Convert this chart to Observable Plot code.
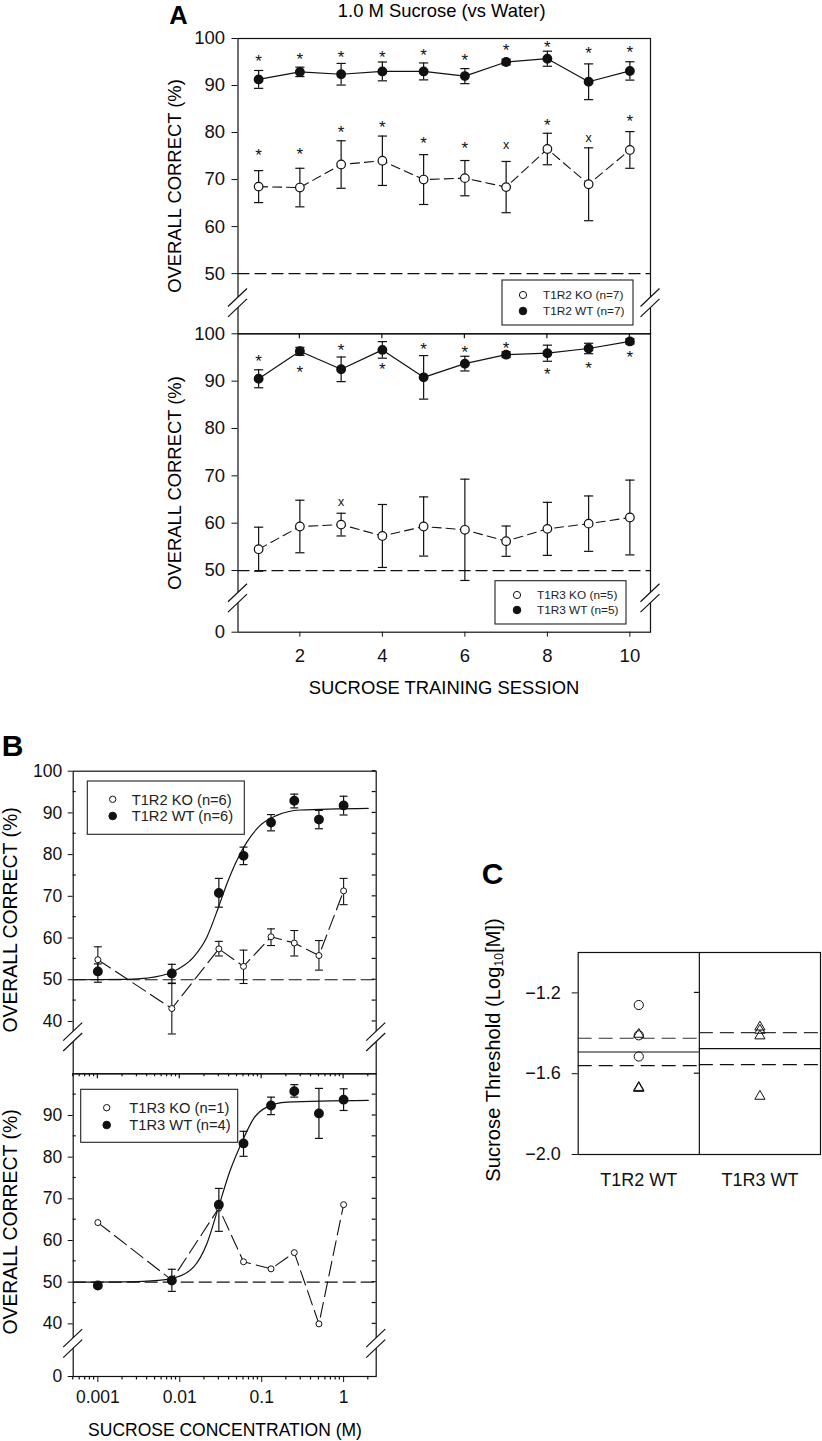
<!DOCTYPE html>
<html>
<head>
<meta charset="utf-8">
<script src="https://cdn.jsdelivr.net/npm/d3@7"></script>
<script src="https://cdn.jsdelivr.net/npm/@observablehq/plot@0.6"></script>
<style>
  html, body { margin: 0; padding: 0; background: #fff; }
  #fig { position: relative; width: 822px; height: 1441px; overflow: hidden; background: #fff;
         font-family: "Liberation Sans", Arial, Helvetica, sans-serif; color: #000; }
  .lbl { position: absolute; white-space: nowrap; line-height: 0.8; transform: translate(-50%, -50%); }
  .rot { transform: translate(-50%, -50%) rotate(-90deg); }
  .bold { font-weight: bold; }
</style>
</head>
<body>
<div id="fig"></div>
<script>
// ======================= DATA =======================
const chance = 50;

// ---- Panel A: 1.0 M sucrose vs water, training sessions ----
const sessions = [1, 2, 3, 4, 5, 6, 7, 8, 9, 10];
const sessionTicks = [2, 4, 6, 8, 10];
const aTicksTop = [50, 60, 70, 80, 90, 100];
const aTicksBottom = [0, 50, 60, 70, 80, 90, 100];

const aT1R2_WT_mean = [91.3, 92.9, 92.4, 93.0, 93.0, 92.0, 95.0, 95.7, 90.8, 93.1];
const aT1R2_WT_sem  = [1.9, 1.0, 2.3, 2.0, 1.8, 1.6, 0.6, 1.6, 3.8, 1.95];
const aT1R2_KO_mean = [68.5, 68.3, 73.2, 74.0, 70.0, 70.3, 68.4, 76.5, 69.0, 76.3];
const aT1R2_KO_sem  = [3.4, 4.1, 5.05, 5.25, 5.3, 3.75, 5.45, 3.35, 7.75, 3.9];
const aT1R2_WT_sig  = ["*", "*", "*", "*", "*", "*", "*", "*", "*", "*"];
const aT1R2_WT_sigY = [95.9, 96.5, 96.9, 96.9, 97.3, 96.2, 98.3, 98.9, 97.6, 97.9];
const aT1R2_KO_sig  = ["*", "*", "*", "*", "*", "*", "x", "*", "x", "*"];
const aT1R2_KO_sigY = [76.0, 76.2, 80.8, 82.0, 78.6, 77.4, 77.1, 82.3, 78.7, 83.3];

const aT1R3_WT_mean = [90.5, 96.3, 92.5, 96.6, 90.8, 93.7, 95.6, 95.9, 96.9, 98.4];
const aT1R3_WT_sem  = [1.9, 0.85, 2.6, 1.75, 4.6, 1.55, 0.6, 1.7, 1.1, 0.55];
const aT1R3_KO_mean = [54.5, 59.3, 59.7, 57.3, 59.3, 58.6, 56.2, 58.8, 59.9, 61.2];
const aT1R3_KO_sem  = [4.65, 5.55, 2.4, 6.65, 6.25, 10.7, 3.2, 5.6, 5.85, 7.9];
const aT1R3_WT_sig  = ["*", "*", "*", "*", "*", "*", "*", "*", "*", "*"];
const aT1R3_WT_sigY = [95.1, 92.7, 97.3, 93.3, 97.5, 97.0, 97.7, 92.2, 93.5, 95.8];
const aT1R3_KO_sig  = ["", "", "x", "", "", "", "", "", "", ""];
const aT1R3_KO_sigY = [null, null, 64.3, null, null, null, null, null, null, null];

const legendA1 = ["T1R2 KO (n=7)", "T1R2 WT (n=7)"];
const legendA2 = ["T1R3 KO (n=5)", "T1R3 WT (n=5)"];

// ---- Panel B: concentration-response ----
const conc = [0.001, 0.008, 0.03, 0.06, 0.13, 0.25, 0.5, 1];
const concTicks = [0.001, 0.01, 0.1, 1];
const bTicksTop = [40, 50, 60, 70, 80, 90, 100];
const bTicksBottom = [0, 40, 50, 60, 70, 80, 90];

const bT1R2_WT_mean = [52.0, 51.5, 70.8, 79.7, 87.7, 92.9, 88.4, 91.8];
const bT1R2_WT_lo   = [49.4, 49.1, 67.4, 77.6, 85.7, 91.2, 86.2, 89.5];
const bT1R2_WT_hi   = [53.8, 53.7, 74.3, 81.8, 89.6, 94.5, 90.6, 94.0];
const bT1R2_KO_mean = [54.8, 43.1, 57.4, 53.2, 60.3, 58.8, 55.8, 71.3];
const bT1R2_KO_lo   = [51.8, 37.0, 55.7, 49.1, 58.2, 55.7, 52.3, 68.0];
const bT1R2_KO_hi   = [57.9, 49.2, 59.2, 57.1, 62.2, 61.8, 59.4, 74.3];
const bT1R2_fitX = [0.0005, 0.00226, 0.004, 0.008, 0.0147, 0.0214, 0.0297, 0.0376, 0.0497, 0.0659, 0.0959, 0.153, 0.295, 2.0];
const bT1R2_fitY = [50.0, 50.1, 50.4, 51.8, 55.4, 60.2, 67.4, 73.0, 78.6, 83.0, 87.0, 89.4, 90.7, 91.1];

const bT1R3_WT_mean = [49.2, 50.4, 68.6, 83.3, 92.4, 95.8, 90.5, 93.8];
const bT1R3_WT_lo   = [48.65, 47.8, 62.2, 80.2, 90.2, 94.4, 84.5, 91.2];
const bT1R3_WT_hi   = [49.75, 53.1, 72.5, 86.2, 94.4, 97.4, 96.5, 96.4];
const bT1R3_KO_mean = [64.3, 50.5, 67.8, 54.9, 53.2, 57.1, 40.0, 68.6];
const bT1R3_fitX = [0.0005, 0.0036, 0.008, 0.0147, 0.0214, 0.0297, 0.0412, 0.0573, 0.0794, 0.1156, 0.203, 2.0];
const bT1R3_fitY = [50.0, 50.2, 50.9, 53.6, 59.2, 68.0, 76.8, 83.6, 89.2, 92.0, 93.2, 93.6];

const legendB1 = ["T1R2 KO (n=6)", "T1R2 WT (n=6)"];
const legendB2 = ["T1R3 KO (n=1)", "T1R3 WT (n=4)"];

// ---- Panel C: sucrose thresholds ----
const cGroups = ["T1R2 WT", "T1R3 WT"];
const cCircles = [[-1.26, -1.41, -1.515], []];
const cTriangles = [[-1.405, -1.668, -1.673], [-1.369, -1.385, -1.413, -1.712]];
const cMean = [-1.4925, -1.476];
const cSem = [0.068, 0.079];
const cTicks = [-2.0, -1.6, -1.2];

// ======================= LAYOUT (page pixels) =======================
const W = 822, H = 1441;
const FONT = '"Liberation Sans", Arial, Helvetica, sans-serif';
const INK = "#111";
const fig = document.getElementById("fig");

const frameA1 = {L: 237.5, R: 650, T: 38, B: 333.3};
const frameA2 = {L: 237.5, R: 650, T: 333.3, B: 631.7, squeeze: 38, breakAt: 45};
const frameB1 = {L: 72.7, R: 375.7, T: 770.7, B: 1073.3};
const frameB2 = {L: 72.7, R: 375.7, T: 1073.3, B: 1376, squeeze: 31.8, breakAt: 35};
const frameC  = {L: 577.7, R: 820, T: 952, B: 1154};

// ======================= HELPERS =======================
const identity = v => v;
// broken axis: values below breakAt are drawn in a compressed strip of `squeeze` pixels
function squeezer(f) {
  const pxPerUnit = (f.B - f.squeeze - f.T) / (100 - f.breakAt);
  const k = (f.squeeze / f.breakAt) / pxPerUnit;
  return v => (v >= f.breakAt ? v : f.breakAt - (f.breakAt - v) * k);
}
function tickSpec(ticks, fwd) {
  const tv = ticks.map(fwd);
  return {ticks: tv, tickFormat: v => { const j = tv.findIndex(t => Math.abs(t - v) < 1e-9); return j < 0 ? "" : String(ticks[j]); }};
}

const cap = {draw(ctx, size) { const w = Math.sqrt(size / Math.PI); ctx.moveTo(-w, 0); ctx.lineTo(w, 0); }};

function rowsSem(xs, mean, sem, fy = identity) { return xs.map((x, i) => ({x, y: fy(mean[i]), lo: fy(mean[i] - sem[i]), hi: fy(mean[i] + sem[i])})); }
function rowsLH(xs, mean, lo, hi, fy = identity) { return xs.map((x, i) => ({x, y: fy(mean[i]), lo: fy(lo[i]), hi: fy(hi[i])})); }
function rowsXY(xs, ys, fy = identity) { return xs.map((x, i) => ({x, y: fy(ys[i])})); }
function rowsSig(xs, sig, ys, fy = identity) { return xs.map((x, i) => ({x, t: sig[i], y: ys[i] == null ? null : fy(ys[i])})).filter(d => d.t); }

function errMarks(rows, {capR, sw}) {
  return [
    Plot.ruleX(rows, {x: "x", y1: "lo", y2: "hi", stroke: INK, strokeWidth: sw}),
    Plot.dot(rows, {x: "x", y: "lo", symbol: cap, r: capR, fill: "none", stroke: INK, strokeWidth: sw}),
    Plot.dot(rows, {x: "x", y: "hi", symbol: cap, r: capR, fill: "none", stroke: INK, strokeWidth: sw})
  ];
}
function sigMarks(rows) {
  return [
    Plot.text(rows.filter(d => d.t === "*"), {x: "x", y: "y", text: "t", fontSize: 17, dy: 4.2, fill: INK}),
    Plot.text(rows.filter(d => d.t === "x"), {x: "x", y: "y", text: "t", fontSize: 12.5, dy: -0.7, fill: INK})
  ];
}

function decor(draw) {
  return (index, scales, values, dims) => {
    const g = d3.create("svg:g").attr("fill", "none").attr("stroke", INK).attr("stroke-width", 1.2);
    draw(g, scales, dims);
    return g.node();
  };
}
function breakMark(g, x, y) {
  const dx = 9.5, dy = 9, gap = 5.2;
  g.append("path")
    .attr("d", `M${x - dx},${y + dy - gap}L${x + dx},${y - dy - gap}L${x + dx},${y - dy + gap}L${x - dx},${y + dy + gap}Z`)
    .attr("fill", "#fff").attr("stroke", "none");
  g.append("path")
    .attr("d", `M${x - dx},${y + dy - gap}L${x + dx},${y - dy - gap}M${x - dx},${y + dy + gap}L${x + dx},${y - dy + gap}`);
}
function hTicks(g, x, ys, len) { ys.forEach(y => g.append("line").attr("x1", x).attr("x2", x + len).attr("y1", y).attr("y2", y)); }
function vTicks(g, xs, y, len) { xs.forEach(x => g.append("line").attr("x1", x).attr("x2", x).attr("y1", y).attr("y2", y + len)); }
function legend(g, s) {
  const [x0, y0, x1, y1] = s.box;
  g.append("rect").attr("x", x0).attr("y", y0).attr("width", x1 - x0).attr("height", y1 - y0)
    .attr("fill", "#fff").attr("stroke", "#222").attr("stroke-width", 1.1);
  s.labels.forEach((lab, i) => {
    g.append("circle").attr("cx", s.symX).attr("cy", s.rows[i]).attr("r", i ? s.rFill : s.rOpen)
      .attr("fill", i ? INK : "#fff").attr("stroke", INK).attr("stroke-width", 1);
    g.append("text").attr("x", s.textX).attr("y", s.rows[i]).attr("dy", "0.36em")
      .attr("text-anchor", "start")
      .attr("font-size", s.font).attr("font-family", FONT).attr("fill", "#222").attr("stroke", "none").text(lab);
  });
}

function addPlot(f, fontSize, x, y, marks) {
  const svg = Plot.plot({
    width: W, height: H,
    marginLeft: f.L, marginRight: W - f.R, marginTop: f.T, marginBottom: H - f.B,
    style: {background: "transparent", fontFamily: FONT, fontSize: fontSize + "px", color: INK,
            overflow: "visible", position: "absolute", left: "0px", top: "0px"},
    x, y, marks
  });
  fig.appendChild(svg);
}
function addLabel(text, x, y, size, extra = "") {
  const d = document.createElement("div");
  d.className = "lbl " + extra;
  d.style.left = x + "px"; d.style.top = y + "px"; d.style.fontSize = size + "px";
  d.innerHTML = text;
  fig.appendChild(d);
}

// ======================= PANEL A =======================
const aX = [0.5, 10.5];
{
  const wt = rowsSem(sessions, aT1R2_WT_mean, aT1R2_WT_sem);
  const ko = rowsSem(sessions, aT1R2_KO_mean, aT1R2_KO_sem);
  addPlot(frameA1, 18.5,
    {domain: aX, axis: null},
    {domain: [37.2, 100], ticks: aTicksTop, tickSize: 6, tickPadding: 7, label: null},
    [
      Plot.frame({stroke: INK, strokeWidth: 1.2}),
      Plot.ruleY([chance], {stroke: INK, strokeWidth: 1.2, strokeDasharray: "12,5"}),
      ...errMarks(ko, {capR: 4.6, sw: 1.2}),
      Plot.line(ko, {x: "x", y: "y", stroke: INK, strokeWidth: 1.1, strokeDasharray: "9,5"}),
      Plot.dot(ko, {x: "x", y: "y", r: 4.3, fill: "#fff", stroke: INK, strokeWidth: 1.2}),
      ...errMarks(wt, {capR: 4.6, sw: 1.2}),
      Plot.line(wt, {x: "x", y: "y", stroke: INK, strokeWidth: 1.2}),
      Plot.dot(wt, {x: "x", y: "y", r: 4.2, fill: INK, stroke: INK}),
      ...sigMarks(rowsSig(sessions, aT1R2_WT_sig, aT1R2_WT_sigY)),
      ...sigMarks(rowsSig(sessions, aT1R2_KO_sig, aT1R2_KO_sigY)),
      decor((g, s, d) => {
        const yb = s.y(43.7);
        breakMark(g, d.marginLeft, yb);
        breakMark(g, d.width - d.marginRight, yb);
        legend(g, {box: [502, 280, 633, 325], labels: legendA1, symX: 523, textX: 543, rows: [295, 311], font: 11.8, rOpen: 3.6, rFill: 3.8});
      })
    ]);
}
{
  const f = frameA2, fy = squeezer(f);
  const wt = rowsSem(sessions, aT1R3_WT_mean, aT1R3_WT_sem, fy);
  const ko = rowsSem(sessions, aT1R3_KO_mean, aT1R3_KO_sem, fy);
  addPlot(f, 18.5,
    {domain: aX, ticks: sessionTicks, tickSize: 5, tickPadding: 12, label: null},
    {domain: [fy(0), 100], ...tickSpec(aTicksBottom, fy), tickSize: 6, tickPadding: 7, label: null},
    [
      Plot.frame({stroke: INK, strokeWidth: 1.2}),
      Plot.ruleY([fy(chance)], {stroke: INK, strokeWidth: 1.2, strokeDasharray: "12,5"}),
      ...errMarks(ko, {capR: 4.6, sw: 1.2}),
      Plot.line(ko, {x: "x", y: "y", stroke: INK, strokeWidth: 1.1, strokeDasharray: "9,5"}),
      Plot.dot(ko, {x: "x", y: "y", r: 4.3, fill: "#fff", stroke: INK, strokeWidth: 1.2}),
      ...errMarks(wt, {capR: 4.6, sw: 1.2}),
      Plot.line(wt, {x: "x", y: "y", stroke: INK, strokeWidth: 1.2}),
      Plot.dot(wt, {x: "x", y: "y", r: 4.2, fill: INK, stroke: INK}),
      ...sigMarks(rowsSig(sessions, aT1R3_WT_sig, aT1R3_WT_sigY, fy)),
      ...sigMarks(rowsSig(sessions, aT1R3_KO_sig, aT1R3_KO_sigY, fy)),
      decor((g, s, d) => {
        vTicks(g, sessionTicks.map(s.x), d.marginTop, 5);
        const yb = s.y(fy(40));
        breakMark(g, d.marginLeft, yb);
        breakMark(g, d.width - d.marginRight, yb);
        legend(g, {box: [495, 580.7, 626, 624], labels: legendA2, symX: 517, textX: 537, rows: [595, 610], font: 11.8, rOpen: 3.6, rFill: 3.8});
      })
    ]);
}
addLabel("A", 178.5, 15, 25.5, "bold");
addLabel("1.0 M Sucrose (vs Water)", 441.7, 11.2, 18.4);
addLabel("OVERALL CORRECT (%)", 175, 185.5, 18.4, "rot");
addLabel("OVERALL CORRECT (%)", 175, 482.5, 18.4, "rot");
addLabel("SUCROSE TRAINING SESSION", 444, 688, 18.4);

// ======================= PANEL B =======================
const bX = {type: "log", domain: [0.0005, 2.5]};
const logAll = d3.scaleLog().domain(bX.domain).ticks();
const fives = d3.range(40, 101, 5);
const oddFives = fives.filter(v => v % 10 === 5);
{
  const wt = rowsLH(conc, bT1R2_WT_mean, bT1R2_WT_lo, bT1R2_WT_hi);
  const ko = rowsLH(conc, bT1R2_KO_mean, bT1R2_KO_lo, bT1R2_KO_hi);
  const fit = rowsXY(bT1R2_fitX, bT1R2_fitY);
  addPlot(frameB1, 17.5,
    {...bX, axis: null},
    {domain: [27.45, 100], ticks: bTicksTop, tickSize: 5, tickPadding: 6, label: null},
    [
      Plot.frame({stroke: INK, strokeWidth: 1.2}),
      Plot.ruleY([chance], {stroke: INK, strokeWidth: 1.2, strokeDasharray: "13,5"}),
      Plot.line(fit, {x: "x", y: "y", stroke: INK, strokeWidth: 1.2, curve: "monotone-x"}),
      ...errMarks(ko, {capR: 4, sw: 1.1}),
      Plot.line(ko, {x: "x", y: "y", stroke: INK, strokeWidth: 1.1, strokeDasharray: "15,6"}),
      Plot.dot(ko, {x: "x", y: "y", r: 3, fill: "#fff", stroke: INK, strokeWidth: 1}),
      ...errMarks(wt, {capR: 4, sw: 1.2}),
      Plot.dot(wt, {x: "x", y: "y", r: 4.2, fill: INK, stroke: INK}),
      decor((g, s, d) => {
        const L = d.marginLeft, R = d.width - d.marginRight;
        hTicks(g, R, fives.filter(v => v > 37).map(s.y), -4);
        hTicks(g, L, oddFives.map(s.y), 3);
        const yb = s.y(36.2);
        breakMark(g, L, yb);
        breakMark(g, R, yb);
        legend(g, {box: [87.3, 781, 244.3, 834.3], labels: legendB1, symX: 112.7, textX: 131.7, rows: [799.3, 816], font: 14.7, rOpen: 3.2, rFill: 3.8});
      })
    ]);
}
{
  const f = frameB2, fy = squeezer(f);
  const wt = rowsLH(conc, bT1R3_WT_mean, bT1R3_WT_lo, bT1R3_WT_hi, fy);
  const ko = rowsXY(conc, bT1R3_KO_mean, fy);
  const fit = rowsXY(bT1R3_fitX, bT1R3_fitY, fy);
  addPlot(f, 17.5,
    {...bX, ticks: concTicks, tickFormat: d => String(d), tickSize: 6, tickPadding: 8, label: null},
    {domain: [fy(0), 100], ...tickSpec(bTicksBottom, fy), tickSize: 5, tickPadding: 6, label: null},
    [
      Plot.frame({stroke: INK, strokeWidth: 1.2}),
      Plot.ruleY([fy(chance)], {stroke: INK, strokeWidth: 1.2, strokeDasharray: "13,5"}),
      Plot.line(fit, {x: "x", y: "y", stroke: INK, strokeWidth: 1.2, curve: "monotone-x"}),
      Plot.line(ko, {x: "x", y: "y", stroke: INK, strokeWidth: 1.1, strokeDasharray: "15,6"}),
      Plot.dot(ko, {x: "x", y: "y", r: 3, fill: "#fff", stroke: INK, strokeWidth: 1}),
      ...errMarks(wt, {capR: 4, sw: 1.2}),
      Plot.dot(wt, {x: "x", y: "y", r: 4.2, fill: INK, stroke: INK}),
      decor((g, s, d) => {
        const L = d.marginLeft, R = d.width - d.marginRight, T = d.marginTop, B = d.height - d.marginBottom;
        const major = logAll.filter(v => concTicks.includes(v));
        const minor = logAll.filter(v => !concTicks.includes(v));
        vTicks(g, major.map(s.x), T, 5);
        vTicks(g, minor.map(s.x), T, 3);
        vTicks(g, minor.map(s.x), B, 3.5);
        hTicks(g, R, fives.filter(v => v < 100).map(v => s.y(fy(v))), -4);
        hTicks(g, L, oddFives.filter(v => v < 100).map(v => s.y(fy(v))), 3);
        const yb = s.y(fy(35.2));
        breakMark(g, L, yb);
        breakMark(g, R, yb);
        legend(g, {box: [80.7, 1089.3, 237.7, 1142.3], labels: legendB2, symX: 106.7, textX: 129.3, rows: [1107.7, 1125], font: 14.7, rOpen: 3.2, rFill: 3.8});
      })
    ]);
}
addLabel("B", 12.5, 746.2, 30, "bold");
addLabel("OVERALL CORRECT (%)", 11, 920, 19.4, "rot");
addLabel("OVERALL CORRECT (%)", 11, 1222, 19.4, "rot");
addLabel("SUCROSE CONCENTRATION (M)", 225, 1430, 17.5);

// ======================= PANEL C =======================
{
  const pts = [];
  cGroups.forEach((g, i) => {
    cCircles[i].forEach(v => pts.push({i, v, shape: "circle"}));
    cTriangles[i].forEach(v => pts.push({i, v, shape: "triangle"}));
  });
  const stats = cGroups.map((g, i) => ({i, mean: cMean[i], lo: cMean[i] - cSem[i], hi: cMean[i] + cSem[i]}));
  const centers = cGroups.map((g, i) => i + 0.5);
  const dividers = d3.range(1, cGroups.length);
  addPlot(frameC, 18,
    {domain: [0, cGroups.length], ticks: centers, tickFormat: v => cGroups[Math.floor(v)], tickSize: 0, tickPadding: 19, label: null},
    {domain: [-2.0, -1.0], ticks: cTicks, tickFormat: d3.format(".1f"), tickSize: 6, tickPadding: 11.5, label: null},
    [
      Plot.frame({stroke: INK, strokeWidth: 1.2}),
      Plot.ruleX(dividers, {stroke: INK, strokeWidth: 1.2}),
      Plot.ruleY(stats, {y: "mean", x1: "i", x2: d => d.i + 1, stroke: INK, strokeWidth: 1.2}),
      Plot.ruleY(stats, {y: "hi", x1: "i", x2: d => d.i + 1, stroke: "#333", strokeWidth: 1.2, strokeDasharray: "14,7"}),
      Plot.ruleY(stats, {y: "lo", x1: "i", x2: d => d.i + 1, stroke: INK, strokeWidth: 1.2, strokeDasharray: "14,7"}),
      Plot.dot(pts.filter(d => d.shape === "circle"), {x: d => d.i + 0.5, y: "v", r: 4.6, symbol: "circle", fill: "none", stroke: INK, strokeWidth: 1}),
      Plot.dot(pts.filter(d => d.shape === "triangle"), {x: d => d.i + 0.5, y: "v", r: 3.8, symbol: "triangle", fill: "none", stroke: INK, strokeWidth: 1}),
      decor((g, s, d) => {
        dividers.forEach(v => hTicks(g, s.x(v), cTicks.filter(t => t > -2).map(s.y), -5));
      })
    ]);
}
addLabel("C", 492.5, 874, 30, "bold");
addLabel("Sucrose Threshold (Log<sub style=\"font-size:0.6em;vertical-align:-0.25em;line-height:0\">10</sub>[M])", 493, 1050, 20.2, "rot");
</script>
</body>
</html>
